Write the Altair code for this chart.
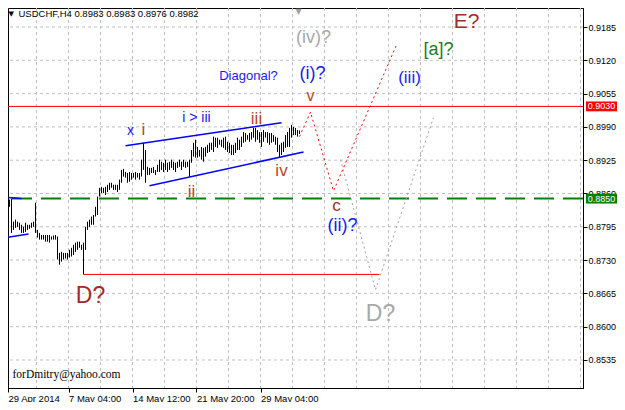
import altair as alt
import pandas as pd

# ---------------- data ----------------
highs = [0.8838,0.8842,0.8848,0.8850,0.8805,0.8809,0.8805,0.8803,0.8799,0.8795,
         0.8803,0.8799,0.8799,0.8803,0.8805,0.8842,0.8789,0.8783,0.8779,0.8779,
         0.8779,0.8779,0.8779,0.8776,0.8778,0.8779,0.8776,0.8744,0.8746,0.8744,
         0.8744,0.8744,0.8750,0.8754,0.8760,0.8764,0.8766,0.8766,0.8760,0.8764,
         0.8795,0.8805,0.8809,0.8815,0.8818,0.8834,0.8854,0.8871,0.8873,0.8871,
         0.8873,0.8877,0.8881,0.8881,0.8877,0.8877,0.8877,0.8887,0.8906,0.8908,
         0.8902,0.8900,0.8902,0.8900,0.8900,0.8902,0.8900,0.8900,0.8926,0.8959,
         0.8945,0.8912,0.8910,0.8910,0.8912,0.8906,0.8916,0.8926,0.8922,0.8920,
         0.8926,0.8920,0.8922,0.8926,0.8922,0.8920,0.8922,0.8926,0.8922,0.8926,
         0.8922,0.8922,0.8926,0.8945,0.8959,0.8965,0.8951,0.8945,0.8951,0.8949,
         0.8951,0.8955,0.8959,0.8959,0.8971,0.8969,0.8969,0.8965,0.8965,0.8969,
         0.8971,0.8961,0.8959,0.8955,0.8955,0.8959,0.8969,0.8965,0.8971,0.8980,
         0.8978,0.8974,0.8978,0.8980,0.8988,0.8988,0.8984,0.8980,0.8980,0.8984,
         0.8980,0.8980,0.8978,0.8978,0.8974,0.8971,0.8969,0.8955,0.8959,0.8961,
         0.8974,0.8980,0.8988,0.8994,0.8990,0.8988,0.8984,0.8983]
lows = [0.8832,0.8832,0.8834,0.8783,0.8789,0.8793,0.8795,0.8789,0.8783,0.8783,
        0.8785,0.8789,0.8791,0.8793,0.8795,0.8783,0.8774,0.8770,0.8770,0.8770,
        0.8766,0.8766,0.8764,0.8770,0.8770,0.8770,0.8731,0.8721,0.8727,0.8731,
        0.8733,0.8731,0.8735,0.8737,0.8740,0.8746,0.8750,0.8754,0.8750,0.8702,
        0.8750,0.8789,0.8795,0.8799,0.8799,0.8815,0.8818,0.8854,0.8861,0.8861,
        0.8857,0.8863,0.8867,0.8871,0.8867,0.8867,0.8863,0.8867,0.8881,0.8893,
        0.8891,0.8881,0.8883,0.8887,0.8891,0.8887,0.8891,0.8887,0.8893,0.8906,
        0.8881,0.8896,0.8896,0.8900,0.8900,0.8896,0.8902,0.8902,0.8906,0.8902,
        0.8906,0.8902,0.8906,0.8910,0.8906,0.8902,0.8910,0.8912,0.8906,0.8912,
        0.8910,0.8912,0.8893,0.8920,0.8932,0.8930,0.8930,0.8932,0.8926,0.8922,
        0.8932,0.8939,0.8941,0.8945,0.8941,0.8951,0.8949,0.8955,0.8951,0.8949,
        0.8945,0.8941,0.8939,0.8935,0.8935,0.8939,0.8945,0.8945,0.8951,0.8959,
        0.8961,0.8965,0.8961,0.8965,0.8969,0.8961,0.8965,0.8959,0.8951,0.8961,
        0.8969,0.8959,0.8955,0.8959,0.8961,0.8955,0.8941,0.8930,0.8935,0.8941,
        0.8949,0.8951,0.8951,0.8969,0.8974,0.8974,0.8971,0.8976]
bar_index = list(range(len(highs)))

y_ticks = [0.9185, 0.9120, 0.9055, 0.8990, 0.8925, 0.8860,
           0.8795, 0.8730, 0.8665, 0.8600, 0.8535]
x_label_pos = [1.25, 31.5, 63.5, 95.5, 127.5]
x_labels = ["29 Apr 2014", "7 May 04:00", "14 May 12:00", "21 May 20:00", "29 May 04:00"]
grid_x = [15.5, 31.5, 47.5, 63.5, 79.5, 95.5, 111.5, 127.5, 143.5, 159.5,
          175.5, 191.5, 207.5, 223.5, 239.5, 255.5, 271.5, 287.5]

level_red = 0.9030
level_green = 0.8850
d_line_k = [39, 187]
d_line_p = 0.8702

# channel / trend segments: (segment id, bar index, price)
seg_id = ["up", "up", "lo", "lo", "l1", "l1", "l2", "l2"]
seg_k = [60, 138, 72, 149, -1, 11.5, -1, 8]
seg_p = [0.8953, 0.8998, 0.8875, 0.8941, 0.8773, 0.8781, 0.8853, 0.8850]

red_path_k = [147, 152.5, 164, 195.5]
red_path_p = [0.8971, 0.9019, 0.8865, 0.9150]
gray_path_k = [167.5, 185, 214]
gray_path_p = [0.8926, 0.8672, 0.9008]

BLUE = "#1A1AF0"
BROWN = "#A52A2A"
RUST = "#B8452B"
GRAY = "#A8A8A8"
GREEN = "#1E7B1E"

labels = ["x", "i", "i > iii", "Diagonal?", "iii", "ii", "iv", "v", "(i)?", "(iv)?",
          "E?", "[a]?", "(iii)", "c", "(ii)?", "D?", "D?"]
label_k = [62.5, 69, 95.5, 121.5, 125.5, 93, 138, 152.5, 153.5, 154,
           230.5, 216.5, 202, 165.5, 168.5, 42.5, 187.5]
label_p = [0.8982, 0.8984, 0.9008, 0.9090, 0.9006, 0.8863, 0.8904, 0.9050, 0.9093, 0.9164,
           0.9194, 0.9140, 0.9086, 0.8836, 0.8797, 0.8660, 0.8625]
label_size = [14, 17, 14, 13, 17, 17, 17, 16, 18, 18, 21, 18, 17, 17, 18, 23, 23]
label_color = [BLUE, RUST, BLUE, BLUE, RUST, RUST, RUST, RUST, BLUE, GRAY,
               BROWN, GREEN, BLUE, BROWN, BLUE, BROWN, GRAY]

header_text = "USDCHF,H4  0.8983 0.8983 0.8976 0.8982"
email_text = "forDmitry@yahoo.com"

# ---------------- chart ----------------
FONT = "Liberation Sans"
PLOT_W = 575
PLOT_H = 380
XS = alt.Scale(domain=[1.25, 1.25 + PLOT_W / 2], nice=False, zero=False)
YS = alt.Scale(domain=[0.84803, 0.92221], nice=False, zero=False)

label_expr = " : ".join(
    f"datum.value == {p} ? '{t}'" for p, t in zip(x_label_pos, x_labels)) + " : ''"

x_axis = alt.Axis(values=x_label_pos, labelExpr=label_expr, grid=False, title=None,
                  tickSize=4, labelAlign="left", labelPadding=1, labelFlush=False,
                  labelOverlap=False, domainColor="black", tickColor="black",
                  labelColor="black", labelFont=FONT, labelFontSize=9.5)
y_axis = alt.Axis(orient="right", values=y_ticks, format=".4f", grid=False, title=None,
                  tickSize=4, labelPadding=1, labelFlush=False, labelOverlap=False,
                  domainColor="black", tickColor="black", labelColor="black",
                  labelFont=FONT, labelFontSize=9)


def X(f):
    return alt.X(f, type="quantitative", scale=XS, axis=x_axis)


def Y(f):
    return alt.Y(f, type="quantitative", scale=YS, axis=y_axis)


bars_df = pd.DataFrame({"k": bar_index, "high": highs, "low": lows})
gridx_df = pd.DataFrame({"gx": grid_x})
gridy_df = pd.DataFrame({"gy": y_ticks})

vgrid = alt.Chart(gridx_df).mark_rule(color="#C0C0C0", strokeDash=[3, 3], strokeWidth=1).encode(x=X("gx"))
hgrid = alt.Chart(gridy_df).mark_rule(color="#C0C0C0", strokeDash=[3, 3], strokeWidth=1).encode(y=Y("gy"))

red_level = alt.Chart(pd.DataFrame({"p": [level_red]})).mark_rule(
    color="#FF0000", strokeWidth=1).encode(y=Y("p"))
green_level = alt.Chart(pd.DataFrame({"p": [level_green]})).mark_rule(
    color="#008000", strokeWidth=2, strokeDash=[20, 9]).encode(y=Y("p"))
d_line = alt.Chart(pd.DataFrame({"k": [d_line_k[0]], "k2": [d_line_k[1]], "p": [d_line_p]})).mark_rule(
    color="#FF0000", strokeWidth=1).encode(x=X("k"), x2="k2", y=Y("p"))

bars = alt.Chart(bars_df).mark_rule(color="black", strokeWidth=1, clip=True).encode(
    x=X("k"), y=Y("high"), y2="low")

segs = alt.Chart(pd.DataFrame({"seg": seg_id, "k": seg_k, "p": seg_p})).mark_line(
    color="#0000FF", strokeWidth=1.5, clip=True).encode(x=X("k"), y=Y("p"), detail="seg:N")

red_path = alt.Chart(pd.DataFrame({"k": red_path_k, "p": red_path_p, "o": list(range(len(red_path_k)))})).mark_line(
    color="#FF0000", strokeWidth=1, strokeDash=[2, 3]).encode(x=X("k"), y=Y("p"), order="o:Q")
gray_path = alt.Chart(pd.DataFrame({"k": gray_path_k, "p": gray_path_p, "o": list(range(len(gray_path_k)))})).mark_line(
    color="#A0A0A0", strokeWidth=1, strokeDash=[2, 3]).encode(x=X("k"), y=Y("p"), order="o:Q")

labels_df = pd.DataFrame({"k": label_k, "p": label_p, "t": labels, "s": label_size, "c": label_color})
texts = alt.Chart(labels_df).mark_text(font=FONT, align="center", baseline="middle").encode(
    x=X("k"), y=Y("p"), text="t:N", size=alt.Size("s:Q", scale=None), color=alt.Color("c:N", scale=None))

header = alt.Chart(pd.DataFrame({"k": [6.5], "p": [0.92100], "t": [header_text]})).mark_text(
    font=FONT, fontSize=9.5, align="left", baseline="middle", color="black").encode(
    x=X("k"), y=Y("p"), text="t:N")
header_tri = alt.Chart(pd.DataFrame({"k": [2.8], "p": [0.92105], "t": ["▼"]})).mark_text(
    font="DejaVu Sans", fontSize=7, align="center", baseline="middle", color="black").encode(
    x=X("k"), y=Y("p"), text="t:N")
shift_tri = alt.Chart(pd.DataFrame({"k": [146.5], "p": [0.92140], "t": ["▼"]})).mark_text(
    font="DejaVu Sans", fontSize=8, align="center", baseline="middle", color="#A0A0A0").encode(
    x=X("k"), y=Y("p"), text="t:N")
email = alt.Chart(pd.DataFrame({"k": [3.5], "p": [0.85059], "t": [email_text]})).mark_text(
    font="Liberation Serif", fontSize=11.5, align="left", baseline="middle", color="black").encode(
    x=X("k"), y=Y("p"), text="t:N")

tags_df = pd.DataFrame({"p": [level_red, level_green], "c": ["#FF0000", "#008000"],
                        "t": ["0.9030", "0.8850"]})
tag_boxes = alt.Chart(tags_df).mark_rect().transform_calculate(
    top="datum.p + 0.00096", bot="datum.p - 0.00096").encode(
    x=alt.value(PLOT_W + 3), x2=alt.value(PLOT_W + 34), y=Y("top:Q"), y2="bot:Q",
    color=alt.Color("c:N", scale=None))
tag_text = alt.Chart(tags_df).mark_text(font=FONT, fontSize=9, color="white",
                                        align="center", baseline="middle").encode(
    x=alt.value(PLOT_W + 18.5), y=Y("p"), text="t:N")

chart = alt.layer(
    vgrid, hgrid, red_level, green_level, d_line, bars, segs, red_path, gray_path,
    texts, header, header_tri, shift_tri, email, tag_boxes, tag_text
).properties(
    width=PLOT_W, height=PLOT_H,
    autosize=alt.AutoSizeParams(type="none"),
    padding={"left": 0, "top": 0, "right": 34, "bottom": 14},
    background="white",
).configure_view(stroke="black", strokeWidth=1).configure_axis(zindex=0)

chart.save("out.html", embed_options={"renderer": "svg", "actions": False})
